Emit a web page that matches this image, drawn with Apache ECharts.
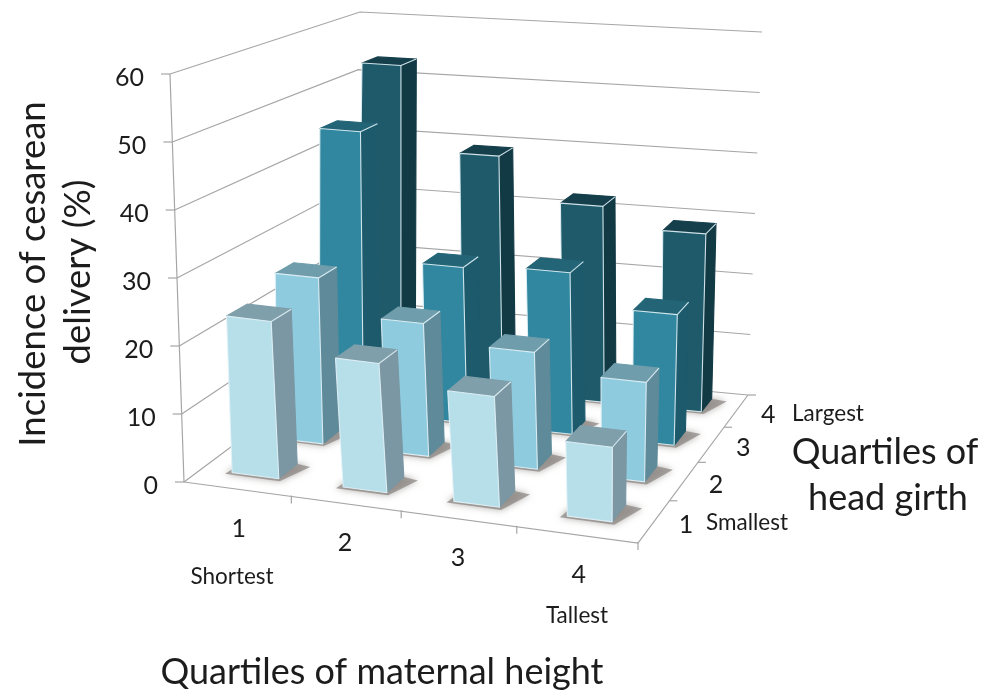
<!DOCTYPE html>
<html lang="en">
<head>
<meta charset="UTF-8">
<title>Cesarean delivery by maternal height and head girth</title>
<script src="https://cdn.jsdelivr.net/npm/echarts@6/dist/echarts.min.js"></script>
<style>
  html, body { margin: 0; padding: 0; background: #fff; }
  #main { width: 984px; height: 694px; }
</style>
</head>
<body>
<div id="main"></div>
<script>
// data, one list per head girth quartile (maternal height 1..4)
const heightLabels = ['1', '2', '3', '4'];
const girthLabels = ['1', '2', '3', '4'];
const incidenceTicks = [0, 10, 20, 30, 40, 50, 60];
const girth1 = [23.3, 19, 16.2, 10.9];
const girth2 = [25.6, 20.3, 17.7, 15];
const girth3 = [45, 24.7, 25.4, 20.4];
const girth4 = [53, 39, 32, 28.8];
const allGirths = [girth1, girth2, girth3, girth4];

// bar colours per girth quartile: front, side, top
const barColors = [
  ['#b7dfea', '#7a97a3', '#7f9fab'],
  ['#8fcbdf', '#5f8a99', '#6f9dab'],
  ['#31879f', '#1d5a6c', '#236577'],
  ['#1f5a6a', '#123a45', '#143f4b']
];

// corners of the box as it sits on the page: front-left, front-right, back-right, back-left
const floorBox = [[184, 482], [638, 543], [748, 395], [350, 358]];
const ceilBox = [[170, 74], [648, 128], [762, 32], [360, 12]];
const zMax = 60;
const barHalfU = 0.053, barHalfV = 0.052, barShiftU = 0.006, barShiftV = 0.02;
// the original's perspective is weaker along the height axis than a true projection of the box,
// so bars get a small per-column correction
const widthScale = [1.08, 0.95, 0.93, 0.86];
const driftFront = [0.002, 0.012, 0.011, -0.002];
const driftSlope = [0.0107, 0.02, 0.0187, 0.0059];
const heightTickU = [0.26, 0.51, 0.757, 1];

function homography(q) {
  const [[x0, y0], [x1, y1], [x2, y2], [x3, y3]] = q;
  const dx1 = x1 - x2, dx2 = x3 - x2, sx = x0 - x1 + x2 - x3;
  const dy1 = y1 - y2, dy2 = y3 - y2, sy = y0 - y1 + y2 - y3;
  const d = dx1 * dy2 - dx2 * dy1;
  const g = (sx * dy2 - dx2 * sy) / d, h = (dx1 * sy - sx * dy1) / d;
  const a = x1 - x0 + g * x1, b = x3 - x0 + h * x3;
  const c = y1 - y0 + g * y1, e = y3 - y0 + h * y3;
  return (u, v) => {
    const w = g * u + h * v + 1;
    return [(a * u + b * v + x0) / w, (c * u + e * v + y0) / w];
  };
}
const floorH = homography(floorBox), ceilH = homography(ceilBox);

// u along maternal height, v along head girth, z in percent
function project(u, v, z) {
  const a = floorH(u, v), b = ceilH(u, v), t = z / zMax;
  return [a[0] + (b[0] - a[0]) * t, a[1] + (b[1] - a[1]) * t];
}

const barData = [];
for (let j = 3; j >= 0; j--) {
  allGirths[j].forEach((val, i) => barData.push([i, j, val]));
}

const gridStroke = { stroke: '#a6a6a6', lineWidth: 1.2, fill: null };
const labelFont = '25px Lato';

function renderGrid(params, api) {
  const z = api.value(0);
  const pts = [project(0, 0, z), project(0, 1, z), project(1, 1, z)].map(p => api.coord(p));
  const children = [{ type: 'polyline', shape: { points: pts }, style: gridStroke }];
  const tick = api.coord([project(0, 0, z)[0] - 9, project(0, 0, z)[1]]);
  children.push({ type: 'line', shape: { x1: tick[0], y1: tick[1], x2: pts[0][0], y2: pts[0][1] }, style: gridStroke });
  children.push({
    type: 'text',
    style: {
      x: pts[0][0] - 26, y: pts[0][1] + 4, text: String(z), align: 'right', verticalAlign: 'middle',
      font: labelFont, fill: '#1c1c1c'
    }
  });
  return { type: 'group', children };
}

function renderFrame(params, api) {
  const c = (u, v, z) => api.coord(project(u, v, z));
  const children = [
    { type: 'polyline', shape: { points: [c(0, 0, 0), c(0, 0, zMax)] }, style: gridStroke },
    { type: 'polyline', shape: { points: [c(0, 0, 0), c(1, 0, 0), c(1, 1, 0)] }, style: gridStroke }
  ];
  heightLabels.forEach((t, i) => {
    const p = c(heightTickU[i], 0, 0), m = c((i + 0.5) / 4, 0, 0);
    children.push({ type: 'line', shape: { x1: p[0], y1: p[1] - 1, x2: p[0], y2: p[1] + 7 }, style: gridStroke });
    children.push({
      type: 'text',
      style: { x: m[0] + 4, y: m[1] + 40, text: t, align: 'center', verticalAlign: 'middle', font: labelFont, fill: '#1c1c1c' }
    });
  });
  girthLabels.forEach((t, j) => {
    const p = c(1, (j + 1) / 4, 0), m = c(1, (j + 0.5) / 4, 0);
    children.push({ type: 'line', shape: { x1: p[0], y1: p[1], x2: p[0] + 8, y2: p[1] }, style: gridStroke });
    children.push({
      type: 'text',
      style: { x: m[0] + 32, y: m[1] + 4, text: t, align: 'center', verticalAlign: 'middle', font: labelFont, fill: '#1c1c1c' }
    });
  });
  return { type: 'group', children };
}

function barCorners(i, j) {
  const cv = (j + 0.5) / 4 + barShiftV;
  const cu = (i + 0.5) / 4 + barShiftU + driftFront[i] + driftSlope[i] * (cv - 0.145);
  const hw = barHalfU * widthScale[i];
  return { u0: cu - hw, u1: cu + hw, v0: cv - barHalfV, v1: cv + barHalfV };
}

function renderShadow(params, api) {
  const b = barCorners(api.value(0), api.value(1));
  const pts = [[b.u0 - 0.012, b.v0 - 0.012], [b.u1 + 0.008, b.v0 - 0.014], [b.u1 + 0.036, b.v1 - 0.01], [b.u1, b.v1], [b.u0, b.v1]]
    .map(p => api.coord(project(p[0], p[1], 0)));
  return {
    type: 'polygon', shape: { points: pts },
    style: { fill: 'rgba(135,130,125,0.7)', shadowBlur: 7, shadowColor: 'rgba(120,115,110,0.8)' }
  };
}

function renderBar(params, api) {
  const j = api.value(1), val = api.value(2);
  const b = barCorners(api.value(0), j);
  const colors = barColors[j];
  const c = (u, v, z) => api.coord(project(u, v, z));
  const edge = 'rgba(226,242,247,0.9)';
  const poly = (points, fill, stroke) => ({
    type: 'polygon', shape: { points },
    style: { fill, stroke: stroke || fill, lineWidth: 1.1, lineJoin: 'round' }
  });
  return {
    type: 'group',
    children: [
      poly([c(b.u1, b.v0, 0), c(b.u1, b.v1, 0), c(b.u1, b.v1, val), c(b.u1, b.v0, val)], colors[1]),
      poly([c(b.u0, b.v0, val), c(b.u1, b.v0, val), c(b.u1, b.v1, val), c(b.u0, b.v1, val)], colors[2]),
      poly([c(b.u0, b.v0, 0), c(b.u1, b.v0, 0), c(b.u1, b.v0, val), c(b.u0, b.v0, val)], colors[0], edge),
      { type: 'polyline', shape: { points: [c(b.u1, b.v0, val), c(b.u1, b.v1, val)] }, style: { stroke: edge, lineWidth: 1.1, fill: null } }
    ]
  };
}

const myChart = echarts.init(document.getElementById('main'), null, { renderer: 'canvas' });

function note(text, x, y, size) {
  return { type: 'text', x, y, style: { text, font: size + 'px Lato', fill: '#1c1c1c', align: 'center', verticalAlign: 'middle' } };
}

myChart.setOption({
  animation: false,
  backgroundColor: '#ffffff',
  grid: { left: 0, right: 0, top: 0, bottom: 0 },
  // page-sized scales: the 3D projection lands on these
  xAxis: { type: 'value', min: 0, max: 984, show: false },
  yAxis: { type: 'value', min: 0, max: 694, inverse: true, show: false },
  series: [
    { type: 'custom', coordinateSystem: 'cartesian2d', data: incidenceTicks.map(t => [t]), renderItem: renderGrid, encode: { x: -1, y: -1 }, silent: true, z: 1 },
    { type: 'custom', coordinateSystem: 'cartesian2d', data: [[0]], renderItem: renderFrame, encode: { x: -1, y: -1 }, silent: true, z: 2 },
    { type: 'custom', coordinateSystem: 'cartesian2d', data: barData, renderItem: renderShadow, encode: { x: -1, y: -1 }, silent: true, z: 3 },
    { type: 'custom', coordinateSystem: 'cartesian2d', data: barData, renderItem: renderBar, encode: { x: -1, y: -1 }, silent: true, z: 4 }
  ],
  graphic: [
    note('Shortest', 232, 577, 22.5),
    note('Tallest', 577, 616, 22.5),
    note('Smallest', 747, 523, 22.5),
    note('Largest', 828, 414, 22.5),
    note('Quartiles of', 885, 452, 36),
    note('head girth', 888, 498, 36),
    note('Quartiles of maternal height', 382, 672, 36),
    { type: 'text', x: 33, y: 274, rotation: Math.PI / 2, style: { text: 'Incidence of cesarean', font: '36.5px Lato', fill: '#1c1c1c', align: 'center', verticalAlign: 'middle' } },
    { type: 'text', x: 78, y: 272, rotation: Math.PI / 2, style: { text: 'delivery (%)', font: '36.5px Lato', fill: '#1c1c1c', align: 'center', verticalAlign: 'middle' } }
  ]
});
window.addEventListener('resize', function () { myChart.resize(); });
</script>
</body>
</html>
